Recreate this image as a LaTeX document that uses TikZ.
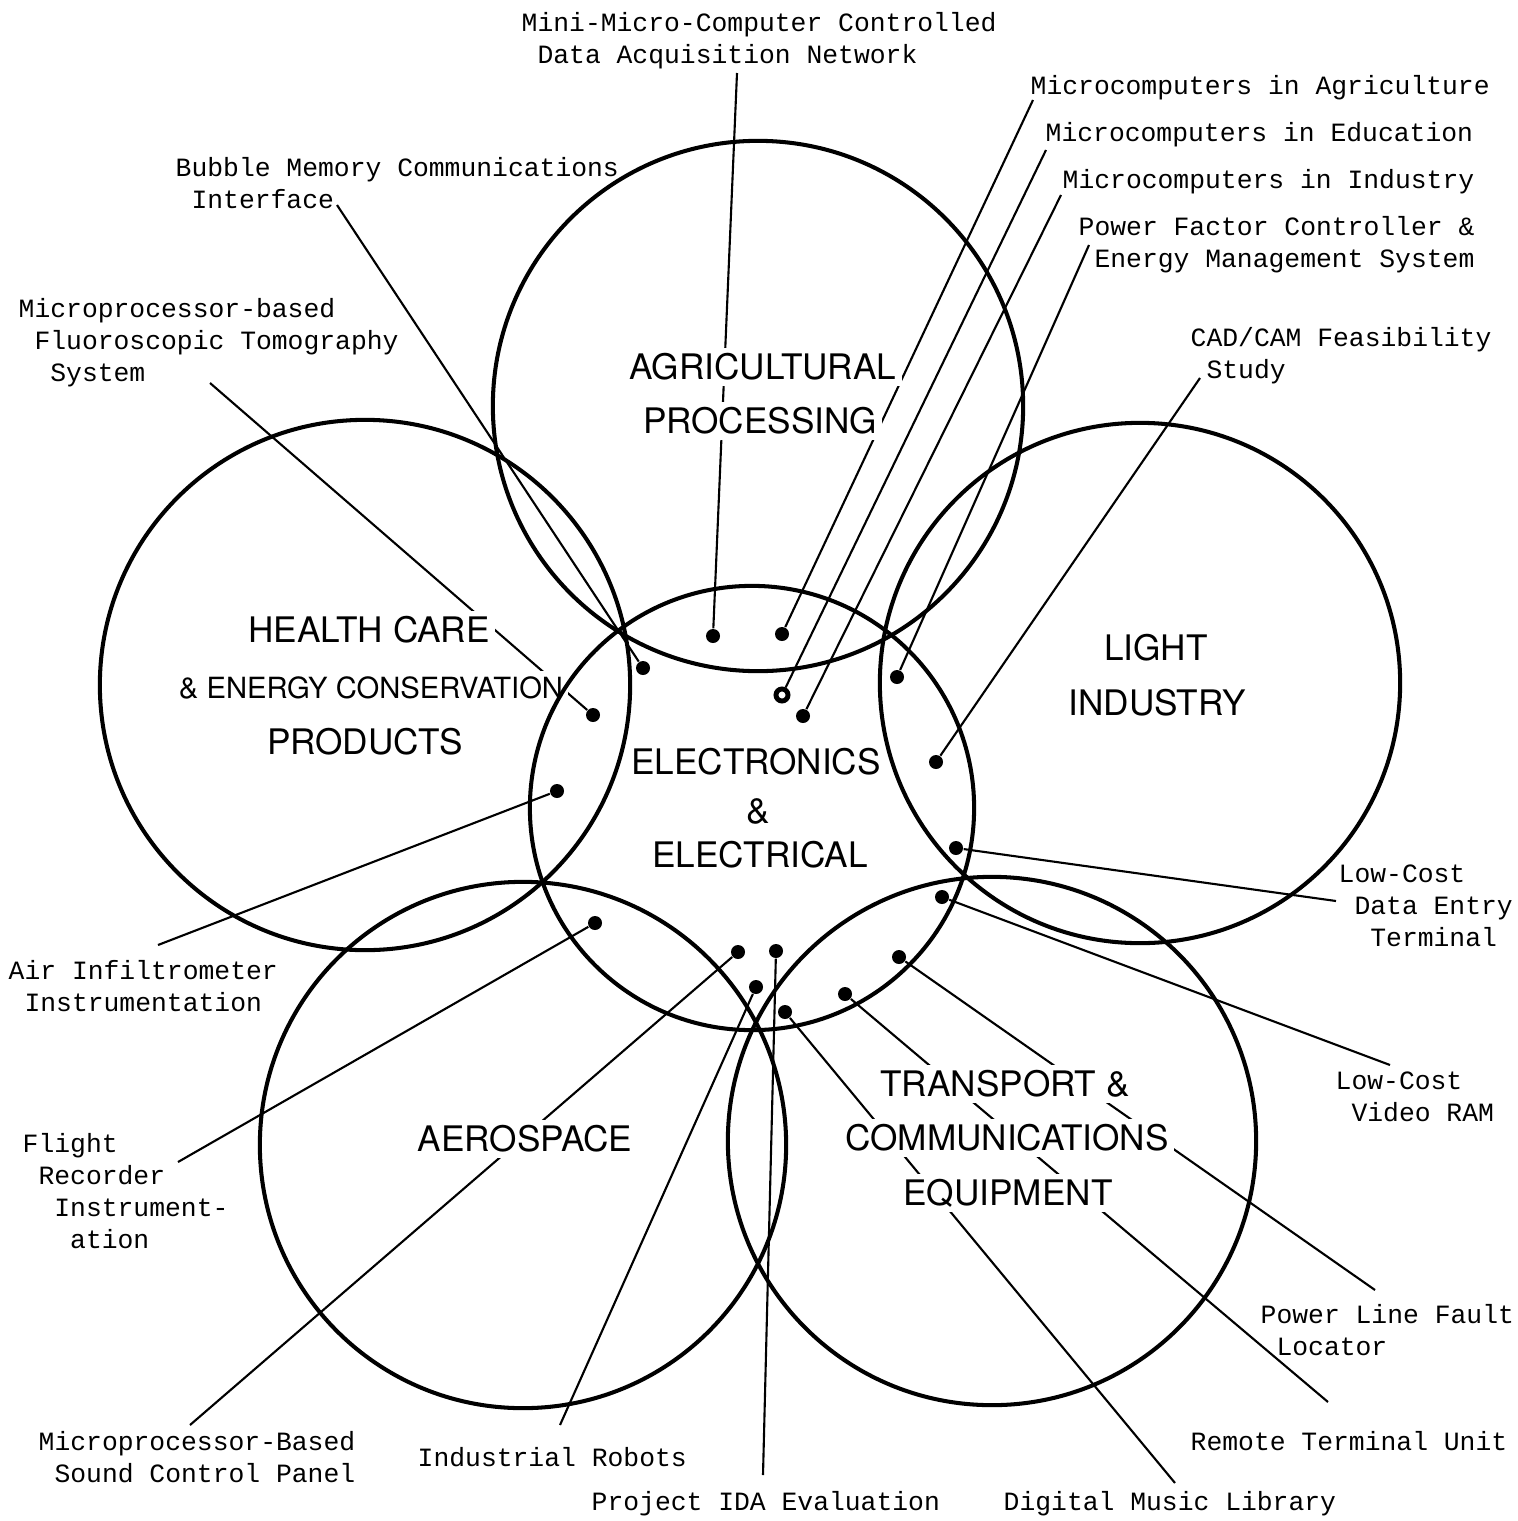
\documentclass[tikz,border=0pt]{standalone}
\usepackage{fontspec}
\newfontfamily\typewriter{Liberation Mono}
\newfontfamily\lettering{TeX Gyre Heros}
\newcommand{\indch}{\hphantom{0}}
\usetikzlibrary{backgrounds}

\begin{document}
\begin{tikzpicture}[
    x=0.01cm, y=-0.01cm,
    area/.style={circle, draw, line width=1.15pt, inner sep=0pt},
    title/.style={font=\lettering\fontsize{10}{12}\selectfont, fill=white, inner sep=1.5pt},
    note/.style={font=\typewriter\fontsize{7.5}{9.1}\selectfont, align=left, inner sep=0pt, anchor=west},
    blob/.style={circle, fill, inner sep=0pt, minimum size=0.14cm},
    ringdot/.style={circle, draw, line width=1.4pt, fill=white, inner sep=0pt, minimum size=0.12cm},
    leader/.style={line width=0.6pt}
  ]
    \useasboundingbox (0,0) rectangle (1518,1521);

    \node[title] (agritxt1) at (763,367) {AGRICULTURAL};
    \node[title] (agritxt2) at (760,421) {PROCESSING};
    \node[title] (healthtxt1) at (369,630) {HEALTH CARE};
    \node[title, font=\lettering\fontsize{8.3}{10}\selectfont] (healthtxt2) at (371,688) {\& ENERGY CONSERVATION};
    \node[title] (healthtxt3) at (365,742) {PRODUCTS};
    \node[title] (lighttxt1) at (1156,648) {LIGHT};
    \node[title] (lighttxt2) at (1157,703) {INDUSTRY};
    \node[title] (electxt1) at (756,762) {ELECTRONICS};
    \node[title] (electxt2) at (758,811) {\&};
    \node[title] (electxt3) at (760,855) {ELECTRICAL};
    \node[title] (aerotxt) at (525,1139) {AEROSPACE};
    \node[title] (transtxt1) at (1005,1084) {TRANSPORT \&};
    \node[title] (transtxt2) at (1007,1138) {COMMUNICATIONS};
    \node[title] (transtxt3) at (1008,1193) {EQUIPMENT};

    \node[area, minimum size=5.30cm] (agri) at (758,406) {};
    \node[area, minimum size=5.30cm] (health) at (365,685) {};
    \node[area, minimum size=5.20cm] (light) at (1140,683) {};
    \node[area, minimum size=4.44cm] (elec) at (752,808) {};
    \node[area, minimum size=5.26cm] (aero) at (523,1145) {};
    \node[area, minimum size=5.28cm] (trans) at (992,1141) {};

    \node[blob] (d1) at (713,636) {};
    \node[blob] (d2) at (782,634) {};
    \node[ringdot] (d3) at (782,695) {};
    \node[blob] (d4) at (803,716) {};
    \node[blob] (d5) at (897,677) {};
    \node[blob] (d6) at (936,762) {};
    \node[blob] (d7) at (643,668) {};
    \node[blob] (d8) at (593,715) {};
    \node[blob] (d9) at (557,791) {};
    \node[blob] (d10) at (595,923) {};
    \node[blob] (d11) at (738,952) {};
    \node[blob] (d12) at (756,987) {};
    \node[blob] (d13) at (776,951) {};
    \node[blob] (d14) at (785,1012) {};
    \node[blob] (d15) at (845,994) {};
    \node[blob] (d16) at (899,957) {};
    \node[blob] (d17) at (942,897) {};
    \node[blob] (d18) at (956,848) {};

    \node[note] (acq) at (521,41) {Mini-Micro-Computer Controlled\\\indch Data Acquisition Network};
    \node[note] (agr) at (1030,88) {Microcomputers in Agriculture};
    \node[note] (edu) at (1045,135) {Microcomputers in Education};
    \node[note] (ind) at (1062,182) {Microcomputers in Industry};
    \node[note] (pfc) at (1078,245) {Power Factor Controller \&\\\indch Energy Management System};
    \node[note] (cad) at (1190,356) {CAD/CAM Feasibility\\\indch Study};
    \node[note] (bub) at (175,183) {Bubble Memory Communications\\\indch Interface};
    \node[note] (flu) at (18,343) {Microprocessor-based\\\indch Fluoroscopic Tomography\\\indch\indch System};
    \node[note] (air) at (8,986) {Air Infiltrometer\\\indch Instrumentation};
    \node[note] (flt) at (22,1191) {Flight\\\indch Recorder\\\indch\indch Instrument-\\\indch\indch\indch ation};
    \node[note] (snd) at (38,1457) {Microprocessor-Based\\\indch Sound Control Panel};
    \node[note] (rob) at (417,1457) {Industrial Robots};
    \node[note] (ida) at (591,1504) {Project IDA Evaluation};
    \node[note] (mus) at (1003,1504) {Digital Music Library};
    \node[note] (rtu) at (1190,1441) {Remote Terminal Unit};
    \node[note] (plf) at (1260,1330) {Power Line Fault\\\indch Locator};
    \node[note] (vid) at (1335,1097) {Low-Cost\\\indch Video RAM};
    \node[note] (dat) at (1338,906) {Low-Cost\\\indch Data Entry\\\indch\indch Terminal};

    \coordinate (acqend) at (737,73);
    \coordinate (agrend) at (1033,100);
    \coordinate (eduend) at (1046,150);
    \coordinate (indend) at (1061,195);
    \coordinate (pfcend) at (1089,245);
    \coordinate (cadend) at (1200,378);
    \coordinate (bubend) at (337,205);
    \coordinate (fluend) at (210,383);
    \coordinate (airend) at (158,945);
    \coordinate (fltend) at (178,1162);
    \coordinate (sndend) at (190,1425);
    \coordinate (robend) at (560,1425);
    \coordinate (idaend) at (763,1475);
    \coordinate (musend) at (1175,1483);
    \coordinate (rtuend) at (1328,1402);
    \coordinate (plfend) at (1375,1290);
    \coordinate (vidend) at (1390,1065);
    \coordinate (datend) at (1336,901);

    \begin{scope}[on background layer]
      \draw[leader] (acqend) -- (d1);
      \draw[leader] (agrend) -- (d2);
      \draw[leader] (eduend) -- (d3);
      \draw[leader] (indend) -- (d4);
      \draw[leader] (pfcend) -- (d5);
      \draw[leader] (cadend) -- (d6);
      \draw[leader] (bubend) -- (d7);
      \draw[leader] (fluend) -- (d8);
      \draw[leader] (airend) -- (d9);
      \draw[leader] (fltend) -- (d10);
      \draw[leader] (sndend) -- (d11);
      \draw[leader] (robend) -- (d12);
      \draw[leader] (idaend) -- (d13);
      \draw[leader] (musend) -- (d14);
      \draw[leader] (rtuend) -- (d15);
      \draw[leader] (plfend) -- (d16);
      \draw[leader] (vidend) -- (d17);
      \draw[leader] (datend) -- (d18);
    \end{scope}
\end{tikzpicture}
\end{document}
